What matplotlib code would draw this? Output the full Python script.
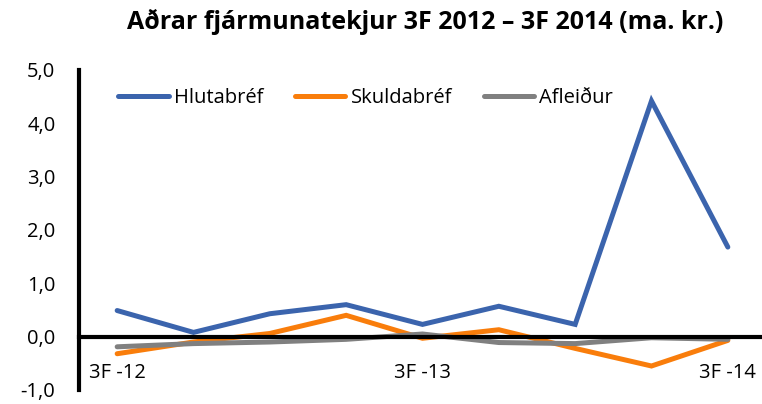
import matplotlib
matplotlib.use("Agg")
import matplotlib.pyplot as plt

quarters = ["3F -12", "4F -12", "1F -13", "2F -13", "3F -13", "4F -13", "1F -14", "2F -14", "3F -14"]
tick_labels = ["3F -12", "", "", "", "3F -13", "", "", "", "3F -14"]
hlutabref = [0.49, 0.08, 0.43, 0.60, 0.23, 0.57, 0.23, 4.42, 1.68]
skuldabref = [-0.32, -0.10, 0.06, 0.40, -0.03, 0.13, -0.22, -0.55, -0.07]
afleidur = [-0.19, -0.13, -0.10, -0.05, 0.05, -0.11, -0.13, -0.02, -0.05]

plt.rcParams['font.family'] = ['Open Sans', 'DejaVu Sans']

fig = plt.figure(figsize=(7.62, 4.04), dpi=100)
ax = fig.add_axes([79/762, 1-390/404, (766-79)/762, 320/404])

x = list(range(len(quarters)))
kw = dict(lw=3.6, solid_capstyle="round", solid_joinstyle="miter")
ax.plot(x, hlutabref, color="#3B64AD", label="Hlutabréf", **kw)
ax.plot(x, skuldabref, color="#F97D0B", label="Skuldabréf", **kw)
ax.plot(x, afleidur, color="#808080", label="Afleiður", **kw)

for s in ["top", "right"]:
    ax.spines[s].set_visible(False)
ax.spines["bottom"].set_position(("data", 0))
ax.spines["bottom"].set_linewidth(3.0)
ax.spines["left"].set_linewidth(3.0)

ax.set_xlim(-0.5, 8.5)
ax.set_ylim(-1.0, 5.0)
yt = [-1, 0, 1, 2, 3, 4, 5]
ax.set_yticks(yt)
ax.set_yticklabels([f"{v:.1f}".replace(".", ",") for v in yt])
ax.set_xticks(x)
ax.set_xticklabels(tick_labels)
ax.tick_params(axis="x", length=0, pad=19, labelsize=14.5)
ax.tick_params(axis="y", length=0, pad=17, labelsize=14.5)

ax.legend(loc="upper left", bbox_to_anchor=(0.057, 0.945), ncol=3, frameon=False,
          fontsize=14.5, handlelength=2.5, handletextpad=0.25, columnspacing=1.6,
          borderaxespad=0, borderpad=0)

fig.text(0.558, 0.946, "Aðrar fjármunatekjur 3F 2012 – 3F 2014 (ma. kr.)",
         ha="center", va="center", fontsize=18, fontweight="bold")

fig.savefig("out.png", dpi=100)
